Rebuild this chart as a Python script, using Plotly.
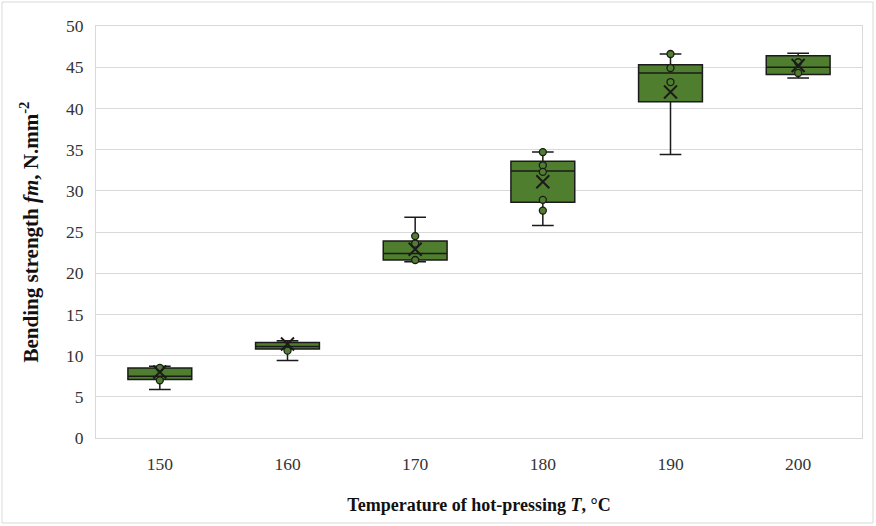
import plotly.graph_objects as go

# ---- data ----
categories = ["150", "160", "170", "180", "190", "200"]
q1_vals = [7.1, 10.8, 21.6, 28.6, 40.8, 44.1]
median_vals = [7.5, 11.1, 22.4, 32.4, 44.3, 45.0]
q3_vals = [8.5, 11.6, 23.9, 33.6, 45.3, 46.4]
lower_vals = [5.9, 9.4, 21.4, 25.8, 34.4, 43.7]
upper_vals = [8.7, 11.8, 26.8, 34.7, 46.6, 46.7]
mean_vals = [8.0, 11.4, 22.9, 31.1, 42.0, 45.2]

point_cats = ["150", "150", "160", "170", "170", "170", "180", "180", "180", "180", "180",
              "190", "190", "190", "200", "200"]
point_vals = [8.5, 7.0, 10.6, 24.5, 23.6, 21.6, 34.7, 33.1, 32.3, 28.9, 27.6,
              46.6, 44.9, 43.2, 44.3, 45.6]

y_ticks = [0, 5, 10, 15, 20, 25, 30, 35, 40, 45, 50]

GREEN = "#4F7F2E"
EDGE = "#1b1b1b"
GRID = "#d9d9d9"

fig = go.Figure()
fig.add_trace(go.Box(
    x=categories, q1=q1_vals, median=median_vals, q3=q3_vals,
    lowerfence=lower_vals, upperfence=upper_vals,
    fillcolor=GREEN, line=dict(color=EDGE, width=1.5),
    whiskerwidth=0.34, width=0.5, boxpoints=False, showlegend=False,
    hoverinfo="skip",
))
fig.add_trace(go.Scatter(
    x=point_cats, y=point_vals, mode="markers", showlegend=False,
    marker=dict(symbol="circle", size=7, color=GREEN, line=dict(color=EDGE, width=1.3)),
))
fig.add_trace(go.Scatter(
    x=categories, y=mean_vals, mode="markers", showlegend=False,
    marker=dict(symbol="x-thin-open", size=13, color=EDGE, line=dict(color=EDGE, width=2)),
))

PW, PH, L, T = 766, 412, 96, 26
fig.add_shape(type="rect", xref="paper", yref="paper",
              x0=(2 - L) / PW, x1=(873 - L) / PW,
              y0=(PH + T - 523) / PH, y1=(PH + T - 2) / PH,
              line=dict(color=GRID, width=1), layer="below")

fig.update_layout(
    width=876, height=526,
    margin=dict(l=96, r=14, t=26, b=88, autoexpand=False),
    paper_bgcolor="white", plot_bgcolor="white",
    font=dict(family="Liberation Serif", size=17.5, color="#333"),
    xaxis=dict(
        type="category", categoryorder="array", categoryarray=categories,
        range=[-0.5, 5.5], showgrid=False, showline=True, linecolor=GRID, mirror=True,
        ticks="", ticklabelstandoff=10, automargin=False,
        title=dict(text="<b>Temperature of hot-pressing <i>T</i>, °C</b>",
                   font=dict(size=18, color="#111"), standoff=25),
    ),
    yaxis=dict(
        range=[0, 50], tickvals=y_ticks, showgrid=True, gridcolor=GRID, gridwidth=1,
        zeroline=False, showline=True, linecolor=GRID, mirror=True,
        ticks="", ticklabelstandoff=8, automargin=False,
        title=dict(text="<b>Bending strength <i>fm</i>, N.mm<sup>-2</sup></b>",
                   font=dict(size=21, color="#111"), standoff=21),
    ),
)

fig.write_html("out.html", config={"displayModeBar": False},
               post_script="document.body.style.margin='0';")
